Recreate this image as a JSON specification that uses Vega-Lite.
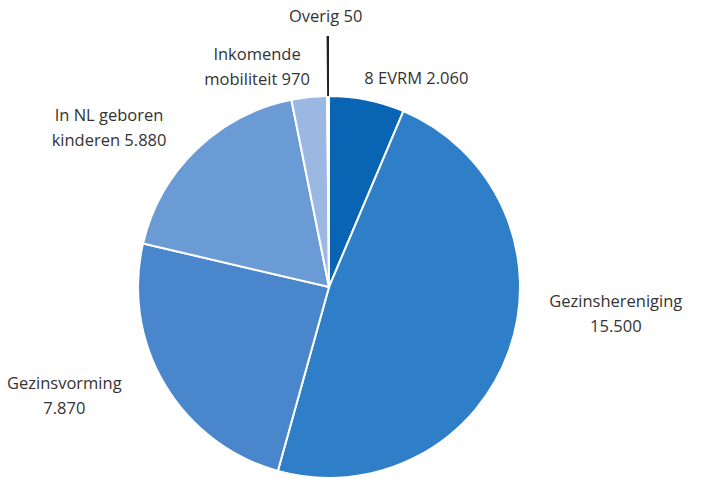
{
  "$schema": "https://vega.github.io/schema/vega-lite/v6.json",
  "width": 384,
  "height": 384,
  "autosize": {"type": "none"},
  "padding": {"left": 137, "top": 95, "right": 192, "bottom": 0},
  "background": "white",
  "config": {"view": {"stroke": null}, "text": {"font": "Open Sans", "fontSize": 16.5, "color": "#333333", "lineHeight": 25}},
  "data": {
    "values": [
      {"cat": "8 EVRM", "value": 2060, "order": 1, "label": "8 EVRM 2.060"},
      {"cat": "Gezinshereniging", "value": 15500, "order": 2, "label": "Gezinshereniging\n15.500"},
      {"cat": "Gezinsvorming", "value": 7870, "order": 3, "label": "Gezinsvorming\n7.870"},
      {"cat": "In NL geboren kinderen", "value": 5880, "order": 4, "label": "In NL geboren\nkinderen 5.880"},
      {"cat": "Inkomende mobiliteit", "value": 970, "order": 5, "label": "Inkomende\nmobiliteit 970"},
      {"cat": "Overig", "value": 50, "order": 6, "label": "Overig 50"}
    ]
  },
  "encoding": {
    "theta": {"field": "value", "type": "quantitative", "stack": true},
    "order": {"field": "order", "type": "quantitative"}
  },
  "layer": [
    {
      "mark": {"type": "arc", "outerRadius": 191, "stroke": "white", "strokeWidth": 2},
      "encoding": {
        "color": {
          "field": "cat", "type": "nominal", "legend": null,
          "sort": ["8 EVRM", "Gezinshereniging", "Gezinsvorming", "In NL geboren kinderen", "Inkomende mobiliteit", "Overig"],
          "scale": {
            "domain": ["8 EVRM", "Gezinshereniging", "Gezinsvorming", "In NL geboren kinderen", "Inkomende mobiliteit", "Overig"],
            "range": ["#0a64b4", "#2e7fc7", "#4a86cc", "#6b9bd5", "#9ab8e2", "#dde7f3"]
          }
        }
      }
    },
    {
      "mark": {"type": "arc", "innerRadius": 191, "outerRadius": 251, "fill": "#222222", "stroke": null},
      "encoding": {
        "fillOpacity": {"condition": {"test": "datum.cat === 'Overig'", "value": 1}, "value": 0}
      }
    },
    {
      "mark": {"type": "text", "radius": 213, "dx": 45, "dy": 1, "lineBreak": "\n"},
      "encoding": {"text": {"condition": {"test": "datum.cat === '8 EVRM'", "field": "label"}, "value": ""}}
    },
    {
      "mark": {"type": "text", "radius": 290, "dx": 13, "dy": -81, "lineBreak": "\n"},
      "encoding": {"text": {"condition": {"test": "datum.cat === 'Gezinshereniging'", "field": "label"}, "value": ""}}
    },
    {
      "mark": {"type": "text", "radius": 260, "dx": -41, "dy": -36, "lineBreak": "\n"},
      "encoding": {"text": {"condition": {"test": "datum.cat === 'Gezinsvorming'", "field": "label"}, "value": ""}}
    },
    {
      "mark": {"type": "text", "radius": 250, "dx": -46, "dy": 9, "lineBreak": "\n"},
      "encoding": {"text": {"condition": {"test": "datum.cat === 'In NL geboren kinderen'", "field": "label"}, "value": ""}}
    },
    {
      "mark": {"type": "text", "radius": 221, "dx": -49, "dy": -12, "lineBreak": "\n"},
      "encoding": {"text": {"condition": {"test": "datum.cat === 'Inkomende mobiliteit'", "field": "label"}, "value": ""}}
    },
    {
      "mark": {"type": "text", "radius": 270, "dx": -2, "lineBreak": "\n"},
      "encoding": {"text": {"condition": {"test": "datum.cat === 'Overig'", "field": "label"}, "value": ""}}
    }
  ]
}
